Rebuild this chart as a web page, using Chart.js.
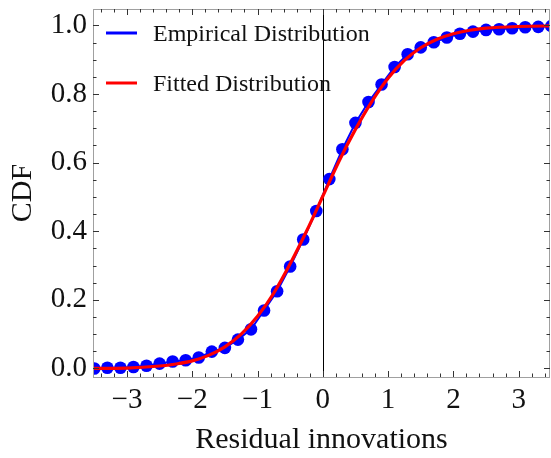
<!DOCTYPE html>
<html lang="en">
<head>
    <meta charset="UTF-8">
    <title>Empirical vs Fitted CDF</title>
    <script src="https://cdn.jsdelivr.net/npm/chart.js"></script>
    <style>
        html, body { margin: 0; padding: 0; background: #fff; }
        #wrap { width: 551px; height: 458px; }
    </style>
</head>
<body>
    <div id="wrap"><canvas id="myChart" width="551" height="458"></canvas></div>

    <script>
        // Empirical CDF points
        const empX = [-3.5, -3.3, -3.1, -2.9, -2.7, -2.5, -2.3, -2.1, -1.9, -1.7, -1.5, -1.3,
                      -1.1, -0.9, -0.7, -0.5, -0.3, -0.1, 0.1, 0.3, 0.5, 0.7, 0.9, 1.1,
                      1.3, 1.5, 1.7, 1.9, 2.1, 2.3, 2.5, 2.7, 2.9, 3.1, 3.3, 3.5];
        const empY = [0.000, 0.002, 0.002, 0.004, 0.008, 0.014, 0.020, 0.024, 0.032, 0.049, 0.060, 0.084,
                      0.114, 0.169, 0.225, 0.297, 0.376, 0.459, 0.552, 0.639, 0.716, 0.777, 0.828, 0.879,
                      0.916, 0.936, 0.951, 0.965, 0.976, 0.982, 0.987, 0.989, 0.992, 0.995, 0.996, 0.998];

        // Fitted CDF curve
        const fitX = [-3.6, -3.0, -2.5, -2.25, -2.0, -1.75, -1.5, -1.25, -1.0, -0.75, -0.5, -0.25,
                      0, 0.25, 0.5, 0.75, 1.0, 1.25, 1.5, 1.75, 2.0, 2.25, 2.5, 3.0, 3.6];
        const fitY = [0.000, 0.001, 0.007, 0.013, 0.022, 0.038, 0.063, 0.100, 0.152, 0.220, 0.305, 0.400,
                      0.502, 0.605, 0.697, 0.778, 0.846, 0.898, 0.935, 0.960, 0.976, 0.986, 0.992, 0.997, 0.999];

        const xTickVals = [-3, -2, -1, 0, 1, 2, 3];
        const yTickVals = [0.0, 0.2, 0.4, 0.6, 0.8, 1.0];
        const seriesNames = ['Empirical Distribution', 'Fitted Distribution'];

        const serif = "'Liberation Serif', 'Times New Roman', serif";

        // frame with inward ticks on all four sides, plus the x = 0 axis line
        const framePlugin = {
            id: 'framePlugin',
            beforeDatasetsDraw(chart) {
                const ctx = chart.ctx;
                const a = chart.chartArea;
                const x0 = chart.scales.x.getPixelForValue(0);
                ctx.save();
                ctx.strokeStyle = '#000';
                ctx.lineWidth = 1;
                ctx.beginPath();
                ctx.moveTo(Math.round(x0) + 0.5, a.top);
                ctx.lineTo(Math.round(x0) + 0.5, a.bottom);
                ctx.stroke();
                ctx.restore();
            },
            afterDraw(chart) {
                const ctx = chart.ctx;
                const a = chart.chartArea;
                const xs = chart.scales.x;
                const ys = chart.scales.y;
                ctx.save();
                ctx.strokeStyle = '#a0a0a0';
                ctx.lineWidth = 1;
                ctx.strokeRect(a.left + 0.5, a.top + 0.5, a.right - a.left - 1, a.bottom - a.top);

                ctx.strokeStyle = '#333';
                ctx.beginPath();
                // x ticks, every 0.2
                for (let i = -17; i <= 17; i++) {
                    const v = i / 5;
                    const px = Math.round(xs.getPixelForValue(v)) + 0.5;
                    if (px < a.left || px > a.right) continue;
                    const len = (i % 5 === 0) ? 6 : 3.5;
                    ctx.moveTo(px, a.bottom);
                    ctx.lineTo(px, a.bottom - len);
                    ctx.moveTo(px, a.top);
                    ctx.lineTo(px, a.top + len);
                }
                // y ticks, every 0.05
                for (let i = 0; i <= 20; i++) {
                    const v = i / 20;
                    const py = Math.round(ys.getPixelForValue(v)) + 0.5;
                    const len = (i % 4 === 0) ? 6 : 3.5;
                    ctx.moveTo(a.left, py);
                    ctx.lineTo(a.left + len, py);
                    ctx.moveTo(a.right, py);
                    ctx.lineTo(a.right - len, py);
                }
                ctx.stroke();
                ctx.restore();
            }
        };

        // legend drawn inside the plot, top left
        const legendPlugin = {
            id: 'insideLegend',
            afterDraw(chart) {
                const ctx = chart.ctx;
                ctx.save();
                ctx.font = '24px ' + serif;
                ctx.fillStyle = '#111';
                ctx.textBaseline = 'alphabetic';
                const order = [1, 0];
                order.forEach((di, k) => {
                    const ds = chart.data.datasets[di];
                    const y = 33 + k * 50;
                    ctx.strokeStyle = ds.borderColor;
                    ctx.lineWidth = 3;
                    ctx.beginPath();
                    ctx.moveTo(106, y);
                    ctx.lineTo(137, y);
                    ctx.stroke();
                    ctx.fillText(ds.label, 153, y + 8);
                });
                ctx.restore();
            }
        };

        const ctx = document.getElementById('myChart').getContext('2d');

        const myChart = new Chart(ctx, {
            type: 'scatter',
            data: {
                datasets: [
                    {
                        label: seriesNames[1],
                        data: fitX.map((x, i) => ({ x: x, y: fitY[i] })),
                        showLine: true,
                        borderColor: '#ff0000',
                        borderWidth: 3.2,
                        pointRadius: 0,
                        cubicInterpolationMode: 'monotone',
                        clip: 0,
                        order: 0
                    },
                    {
                        label: seriesNames[0],
                        data: empX.map((x, i) => ({ x: x, y: empY[i] })),
                        showLine: true,
                        borderColor: '#0000ff',
                        backgroundColor: '#0000ff',
                        borderWidth: 2,
                        pointRadius: 6.3,
                        pointBorderWidth: 0,
                        clip: 0,
                        order: 1
                    }
                ]
            },
            options: {
                responsive: false,
                animation: false,
                layout: { autoPadding: false, padding: { top: 9, right: 1, left: 0, bottom: 0 } },
                plugins: {
                    legend: { display: false },
                    tooltip: { enabled: false }
                },
                scales: {
                    x: {
                        type: 'linear',
                        min: -3.52,
                        max: 3.48,
                        grid: { display: false, drawTicks: false },
                        border: { display: false },
                        afterBuildTicks: s => { s.ticks = xTickVals.map(v => ({ value: v })); },
                        afterFit: s => { s.height = 81; s.paddingLeft = 0; s.paddingRight = 0; },
                        ticks: {
                            color: '#111',
                            padding: 6,
                            maxRotation: 0,
                            font: { family: serif, size: 29 },
                            callback: v => (v < 0 ? '\u2212' + Math.abs(v) : String(v))
                        },
                        title: {
                            display: true,
                            text: 'Residual innovations',
                            color: '#111',
                            padding: 0,
                            font: { family: serif, size: 30 }
                        }
                    },
                    y: {
                        type: 'linear',
                        min: -0.025,
                        max: 1.048,
                        grid: { display: false, drawTicks: false },
                        border: { display: false },
                        afterBuildTicks: s => { s.ticks = yTickVals.map(v => ({ value: v })); },
                        afterFit: s => { s.width = 93; s.paddingTop = 0; s.paddingBottom = 0; },
                        ticks: {
                            color: '#111',
                            padding: 6,
                            font: { family: serif, size: 29 },
                            callback: v => Number(v).toFixed(1)
                        },
                        title: {
                            display: true,
                            text: 'CDF',
                            color: '#111',
                            padding: 5,
                            font: { family: serif, size: 30 }
                        }
                    }
                }
            },
            plugins: [framePlugin, legendPlugin]
        });
    </script>
</body>
</html>
